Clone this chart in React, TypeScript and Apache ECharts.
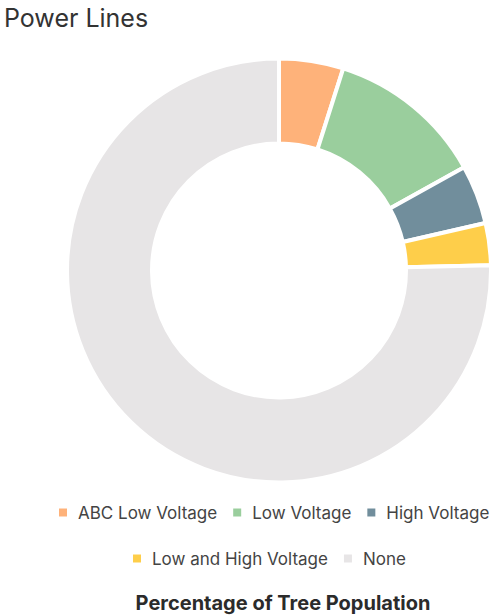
import React, { useEffect, useRef } from "react";
import * as echarts from "echarts";

const categories = ["ABC Low Voltage", "Low Voltage", "High Voltage", "Low and High Voltage", "None"];
const shares = [4.9, 12.0, 4.5, 3.2, 75.4];
const colors = ["#FEB27A", "#9ACE9D", "#718E9C", "#FECE4A", "#E7E5E6"];
const legendRowOne = categories.slice(0, 3);
const legendRowTwo = categories.slice(3);

const FONT = "Inter, 'Noto Sans', sans-serif";

export default function App() {
  const ref = useRef<HTMLDivElement>(null);

  useEffect(() => {
    if (!ref.current) return;
    const chart = echarts.init(ref.current, undefined, { renderer: "svg" });
    const legendBase = {
      orient: "horizontal",
      icon: "rect",
      itemWidth: 10,
      itemHeight: 10,
      itemGap: 14,
      width: 480,
      selectedMode: false,
      textStyle: {
        fontFamily: FONT,
        fontSize: 17,
        color: "#444",
        padding: [0, 0, 0, 5],
      },
    };
    chart.setOption({
      animation: false,
      backgroundColor: "#fff",
      title: {
        text: "Power Lines",
        left: -1,
        top: 0,
        textStyle: { fontFamily: FONT, fontSize: 25, fontWeight: "normal", color: "#333" },
      },
      legend: [
        { ...legendBase, data: legendRowOne, left: 52, top: 499 },
        { ...legendBase, data: legendRowTwo, left: 126, top: 545 },
      ],
      graphic: [
        {
          type: "text",
          x: 283,
          y: 603,
          style: {
            text: "Percentage of Tree Population",
            fontFamily: FONT,
            fontSize: 20,
            fontWeight: "bold",
            fill: "#2b2b2b",
            textAlign: "center",
            textVerticalAlign: "middle",
          },
        },
      ],
      series: [
        {
          type: "pie",
          center: [279, 270.5],
          radius: [127, 212],
          startAngle: 90,
          clockwise: true,
          label: { show: false },
          labelLine: { show: false },
          emphasis: { disabled: true },
          itemStyle: { borderColor: "#fff", borderWidth: 4 },
          data: categories.map((name, i) => ({
            name,
            value: shares[i],
            itemStyle: { color: colors[i] },
          })),
        },
      ],
    });
    return () => chart.dispose();
  }, []);

  return (
    <div
      ref={ref}
      style={{ position: "absolute", left: 0, top: 0, width: 490, height: 615 }}
    />
  );
}
